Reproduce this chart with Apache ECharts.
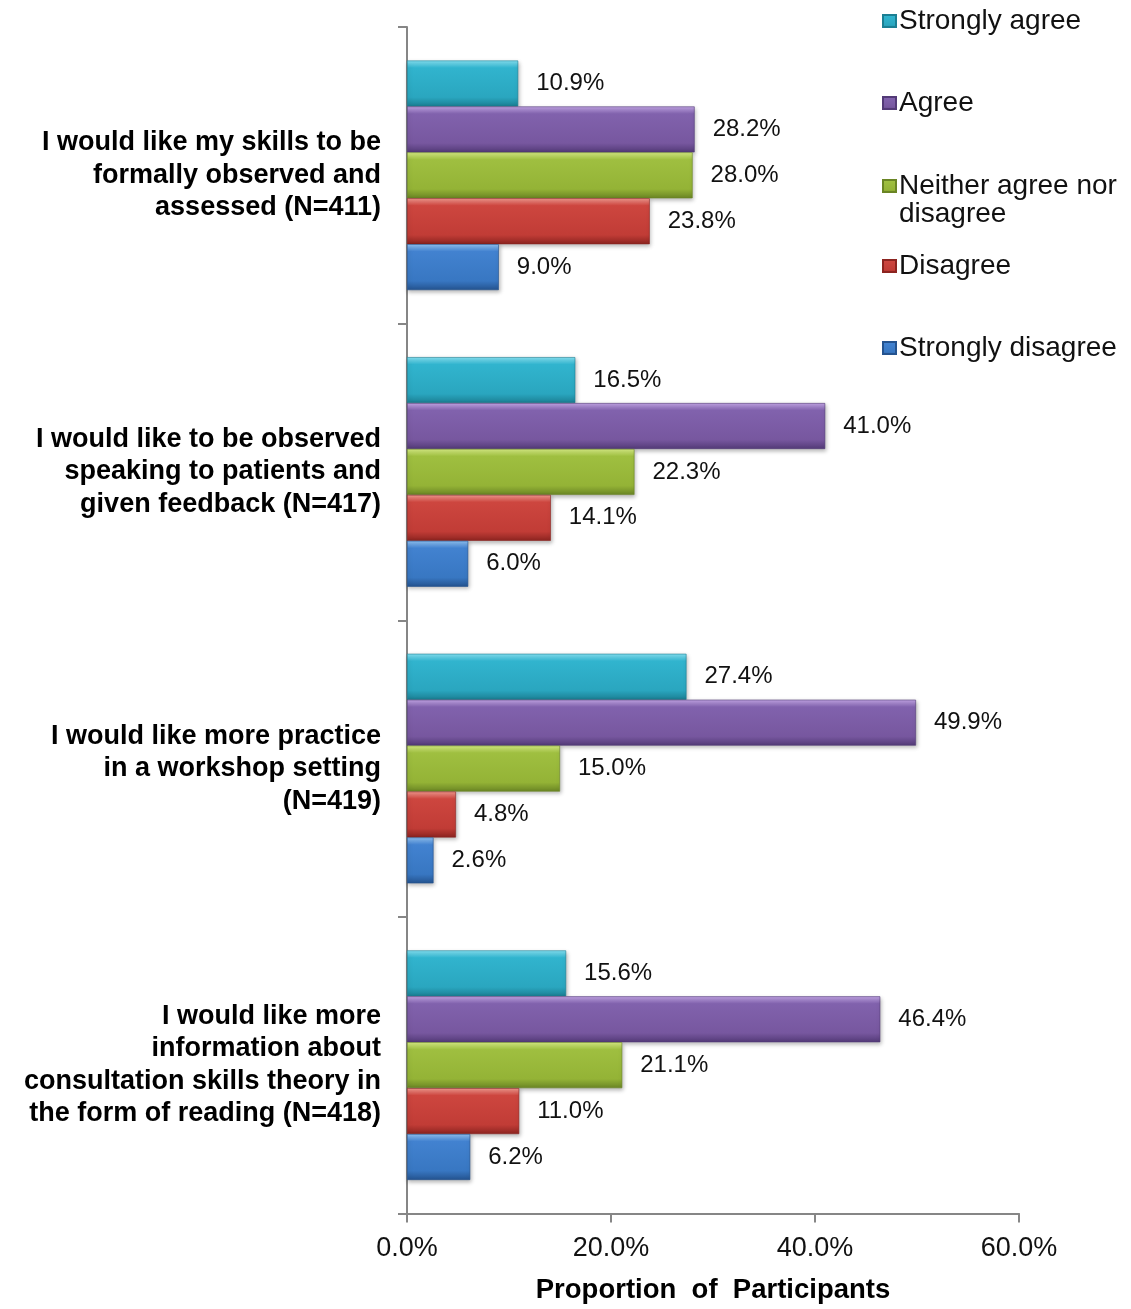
<!DOCTYPE html>
<html>
<head>
<meta charset="utf-8">
<title>Preferences for consultation skills training</title>
<script src="https://cdn.jsdelivr.net/npm/echarts@6/dist/echarts.min.js"></script>
<style>
  html, body { margin: 0; padding: 0; background: #ffffff; }
  #chart { width: 1131px; height: 1309px; }
</style>
</head>
<body>
<div id="chart"></div>
<script>
// Survey statements (top to bottom)
const statements = [
  'I would like my skills to be\nformally observed and\nassessed (N=411)',
  'I would like to be observed\nspeaking to patients and\ngiven feedback (N=417)',
  'I would like more practice\nin a workshop setting\n(N=419)',
  'I would like more\ninformation about\nconsultation skills theory in\nthe form of reading (N=418)'
];

// Response levels, in the order they are drawn inside each group
const responses = ['Strongly agree', 'Agree', 'Neither agree nor disagree', 'Disagree', 'Strongly disagree'];

// Percent of participants for each response, one value per statement
const stronglyAgree    = [10.9, 16.5, 27.4, 15.6];
const agree            = [28.2, 41.0, 49.9, 46.4];
const neither          = [28.0, 22.3, 15.0, 21.1];
const disagree         = [23.8, 14.1, 4.8, 11.0];
const stronglyDisagree = [9.0, 6.0, 2.6, 6.2];

// Proportion axis ticks
const xTicks = [0, 20, 40, 60];

const seriesValues = [stronglyAgree, agree, neither, disagree, stronglyDisagree];

// Bevelled bar shading: highlight on top, body, darker lower edge
const palette = [
  { hi: '#86e2f4', body: '#31b4ce', mid: '#2aa6bf', lo: '#1b7f93' },
  { hi: '#c3a6e6', body: '#8162ad', mid: '#77579f', lo: '#533a77' },
  { hi: '#d6ec83', body: '#9fbf40', mid: '#94b336', lo: '#6a8524' },
  { hi: '#f39a90', body: '#cd463f', mid: '#c13c36', lo: '#8c2420' },
  { hi: '#91c2f3', body: '#4282d0', mid: '#3877c2', lo: '#24538f' }
];

function bevel(c) {
  return new echarts.graphic.LinearGradient(0, 0, 0, 1, [
    { offset: 0, color: c.hi },
    { offset: 0.16, color: c.body },
    { offset: 0.8, color: c.mid },
    { offset: 1, color: c.lo }
  ]);
}

const FONT = "'Liberation Sans', Arial, Helvetica, sans-serif";

const chart = echarts.init(document.getElementById('chart'), null, { renderer: 'canvas' });

const series = responses.map((name, i) => ({
  name: name,
  type: 'bar',
  data: seriesValues[i],
  barGap: '0%',
  barCategoryGap: '22.6%',
  itemStyle: {
    color: bevel(palette[i]),
    borderColor: palette[i].lo,
    borderWidth: 0.6,
    shadowColor: 'rgba(0,0,0,0.28)',
    shadowBlur: 4,
    shadowOffsetX: 1,
    shadowOffsetY: 2
  },
  label: {
    show: true,
    position: 'right',
    distance: 18,
    formatter: p => p.value.toFixed(1) + '%',
    color: '#111',
    fontFamily: FONT,
    fontSize: 24
  },
  emphasis: { disabled: true }
}));

// One legend block per response so each entry sits at its own height
const legendTops = [7, 89, 144, 252, 334];
const legends = responses.map((name, i) => ({
  data: [name],
  orient: 'vertical',
  left: 882,
  top: legendTops[i],
  padding: 0,
  itemWidth: 13,
  itemHeight: 12,
  itemGap: 0,
  icon: 'rect',
  selectedMode: false,
  formatter: n => (n === 'Neither agree nor disagree' ? ' \nNeither agree nor\ndisagree' : n),
  textStyle: {
    color: '#111',
    fontFamily: FONT,
    fontSize: 28,
    lineHeight: 28,
    padding: [0, 0, 0, -2]
  },
  itemStyle: { shadowBlur: 0, shadowOffsetX: 0, shadowOffsetY: 0 }
}));

chart.setOption({
  animation: false,
  backgroundColor: '#ffffff',
  legend: legends,
  grid: { left: 407, right: 112, top: 27, bottom: 93, containLabel: false },
  xAxis: {
    type: 'value',
    min: xTicks[0],
    max: xTicks[xTicks.length - 1],
    interval: xTicks[1] - xTicks[0],
    name: 'Proportion  of  Participants',
    nameLocation: 'middle',
    nameGap: 63,
    nameTextStyle: { color: '#000', fontFamily: FONT, fontSize: 27.5, fontWeight: 'bold', lineHeight: 27 },
    axisLine: { show: true, lineStyle: { color: '#868686', width: 2 } },
    axisTick: { show: true, length: 9, lineStyle: { color: '#868686', width: 2 } },
    splitLine: { show: false },
    axisLabel: {
      margin: 22,
      color: '#111',
      fontFamily: FONT,
      fontSize: 27,
      lineHeight: 27,
      formatter: v => v.toFixed(1) + '%'
    }
  },
  yAxis: {
    type: 'category',
    data: statements,
    inverse: true,
    axisLine: { show: true, lineStyle: { color: '#868686', width: 2 } },
    axisTick: { show: true, length: 9, lineStyle: { color: '#868686', width: 2 } },
    axisLabel: {
      margin: 26,
      color: '#000',
      fontFamily: FONT,
      fontSize: 27,
      fontWeight: 'bold',
      lineHeight: 32.5,
      align: 'right',
      padding: [4, 0, 0, 0]
    }
  },
  series: series
});
</script>
</body>
</html>
